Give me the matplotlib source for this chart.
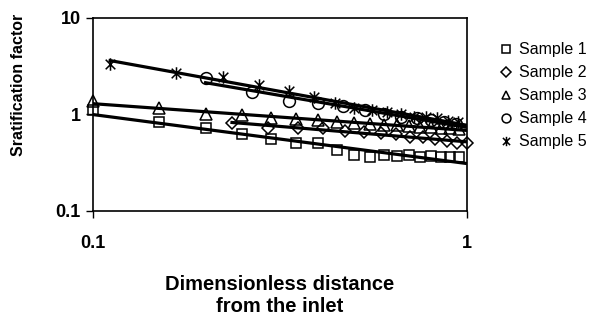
import numpy as np
import matplotlib.pyplot as plt
from matplotlib.path import Path

plt.rcParams["font.family"] = ["Liberation Sans", "DejaVu Sans"]

# dimensionless distance from inlet for each sample
x1 = np.arange(2, 20) * 0.05
x2 = np.arange(4, 18) / 17
x3 = np.arange(2, 20) * 0.05
x4 = np.arange(3, 15) / 15
x5 = np.arange(2, 18) / 18

# stratification factor
y1 = [1.10, 0.83, 0.73, 0.62, 0.55, 0.51, 0.50, 0.43, 0.38, 0.36,
      0.38, 0.37, 0.38, 0.36, 0.37, 0.36, 0.36, 0.36]
y2 = [0.81, 0.73, 0.72, 0.72, 0.67, 0.65, 0.64, 0.62, 0.59, 0.58,
      0.55, 0.53, 0.51, 0.50]
y3 = [1.39, 1.18, 1.02, 0.98, 0.91, 0.89, 0.87, 0.84, 0.82, 0.80,
      0.78, 0.77, 0.76, 0.75, 0.74, 0.73, 0.72, 0.70]
y4 = [2.41, 1.69, 1.39, 1.30, 1.21, 1.10, 1.02, 0.95, 0.91, 0.87, 0.83, 0.79]
y5 = [3.36, 2.71, 2.46, 2.04, 1.77, 1.50, 1.30, 1.18, 1.10, 1.05,
      1.02, 0.95, 0.93, 0.91, 0.85, 0.83]

labels = ["Sample 1", "Sample 2", "Sample 3", "Sample 4", "Sample 5"]

# X with a vertical bar, like the excel star marker
star = Path([(-1, -1), (1, 1), (-1, 1), (1, -1), (0, -1.3), (0, 1.3)],
            [Path.MOVETO, Path.LINETO, Path.MOVETO, Path.LINETO, Path.MOVETO, Path.LINETO])
markers = ["s", "D", "^", "o", star]
sizes = [7.5, 6.5, 8.5, 8.5, 9]

fig = plt.figure(figsize=(6.12, 3.27), dpi=100)
ax = fig.add_axes([0.152, 0.355, 0.611, 0.59])

for xs, ys, m, ms, lab in zip([x1, x2, x3, x4, x5], [y1, y2, y3, y4, y5],
                              markers, sizes, labels):
    ax.plot(xs, ys, linestyle="none", marker=m, ms=ms, mfc="none", mec="black",
            mew=1.1, label=lab, clip_on=False)
    # power trendline fitted in log-log
    b, a = np.polyfit(np.log(xs), np.log(ys), 1)
    xf = np.linspace(min(xs), 0.99, 50)
    ax.plot(xf, np.exp(a) * xf ** b, color="black", lw=2.3)

ax.set_xscale("log")
ax.set_yscale("log")
ax.set_xlim(0.1, 1)
ax.set_ylim(0.1, 10)
ax.set_xticks([0.1, 1])
ax.set_xticklabels(["0.1", "1"])
ax.set_yticks([0.1, 1, 10])
ax.set_yticklabels(["0.1", "1", "10"])
ax.minorticks_off()
ax.tick_params(axis="x", length=5, width=1, pad=12, labelsize=13)
ax.tick_params(axis="y", length=5, width=1, pad=4, labelsize=13)
for t in ax.get_xticklabels() + ax.get_yticklabels():
    t.set_fontweight("bold")
for s in ax.spines.values():
    s.set_linewidth(1.2)

ax.set_xlabel("Dimensionless distance\nfrom the inlet", fontsize=14.5,
              fontweight="bold", linespacing=1.2)
ax.xaxis.set_label_coords(0.5, -0.33)
ax.set_ylabel("Sratification factor", fontsize=11.5, fontweight="bold")
ax.yaxis.set_label_coords(-0.178, 0.655)

leg = fig.legend(loc="upper left", bbox_to_anchor=(0.79, 0.915), frameon=False,
                 fontsize=11.5, labelspacing=0.5, handletextpad=0.35,
                 handlelength=1.0, markerscale=0.75)

fig.savefig("out.png", dpi=100)
